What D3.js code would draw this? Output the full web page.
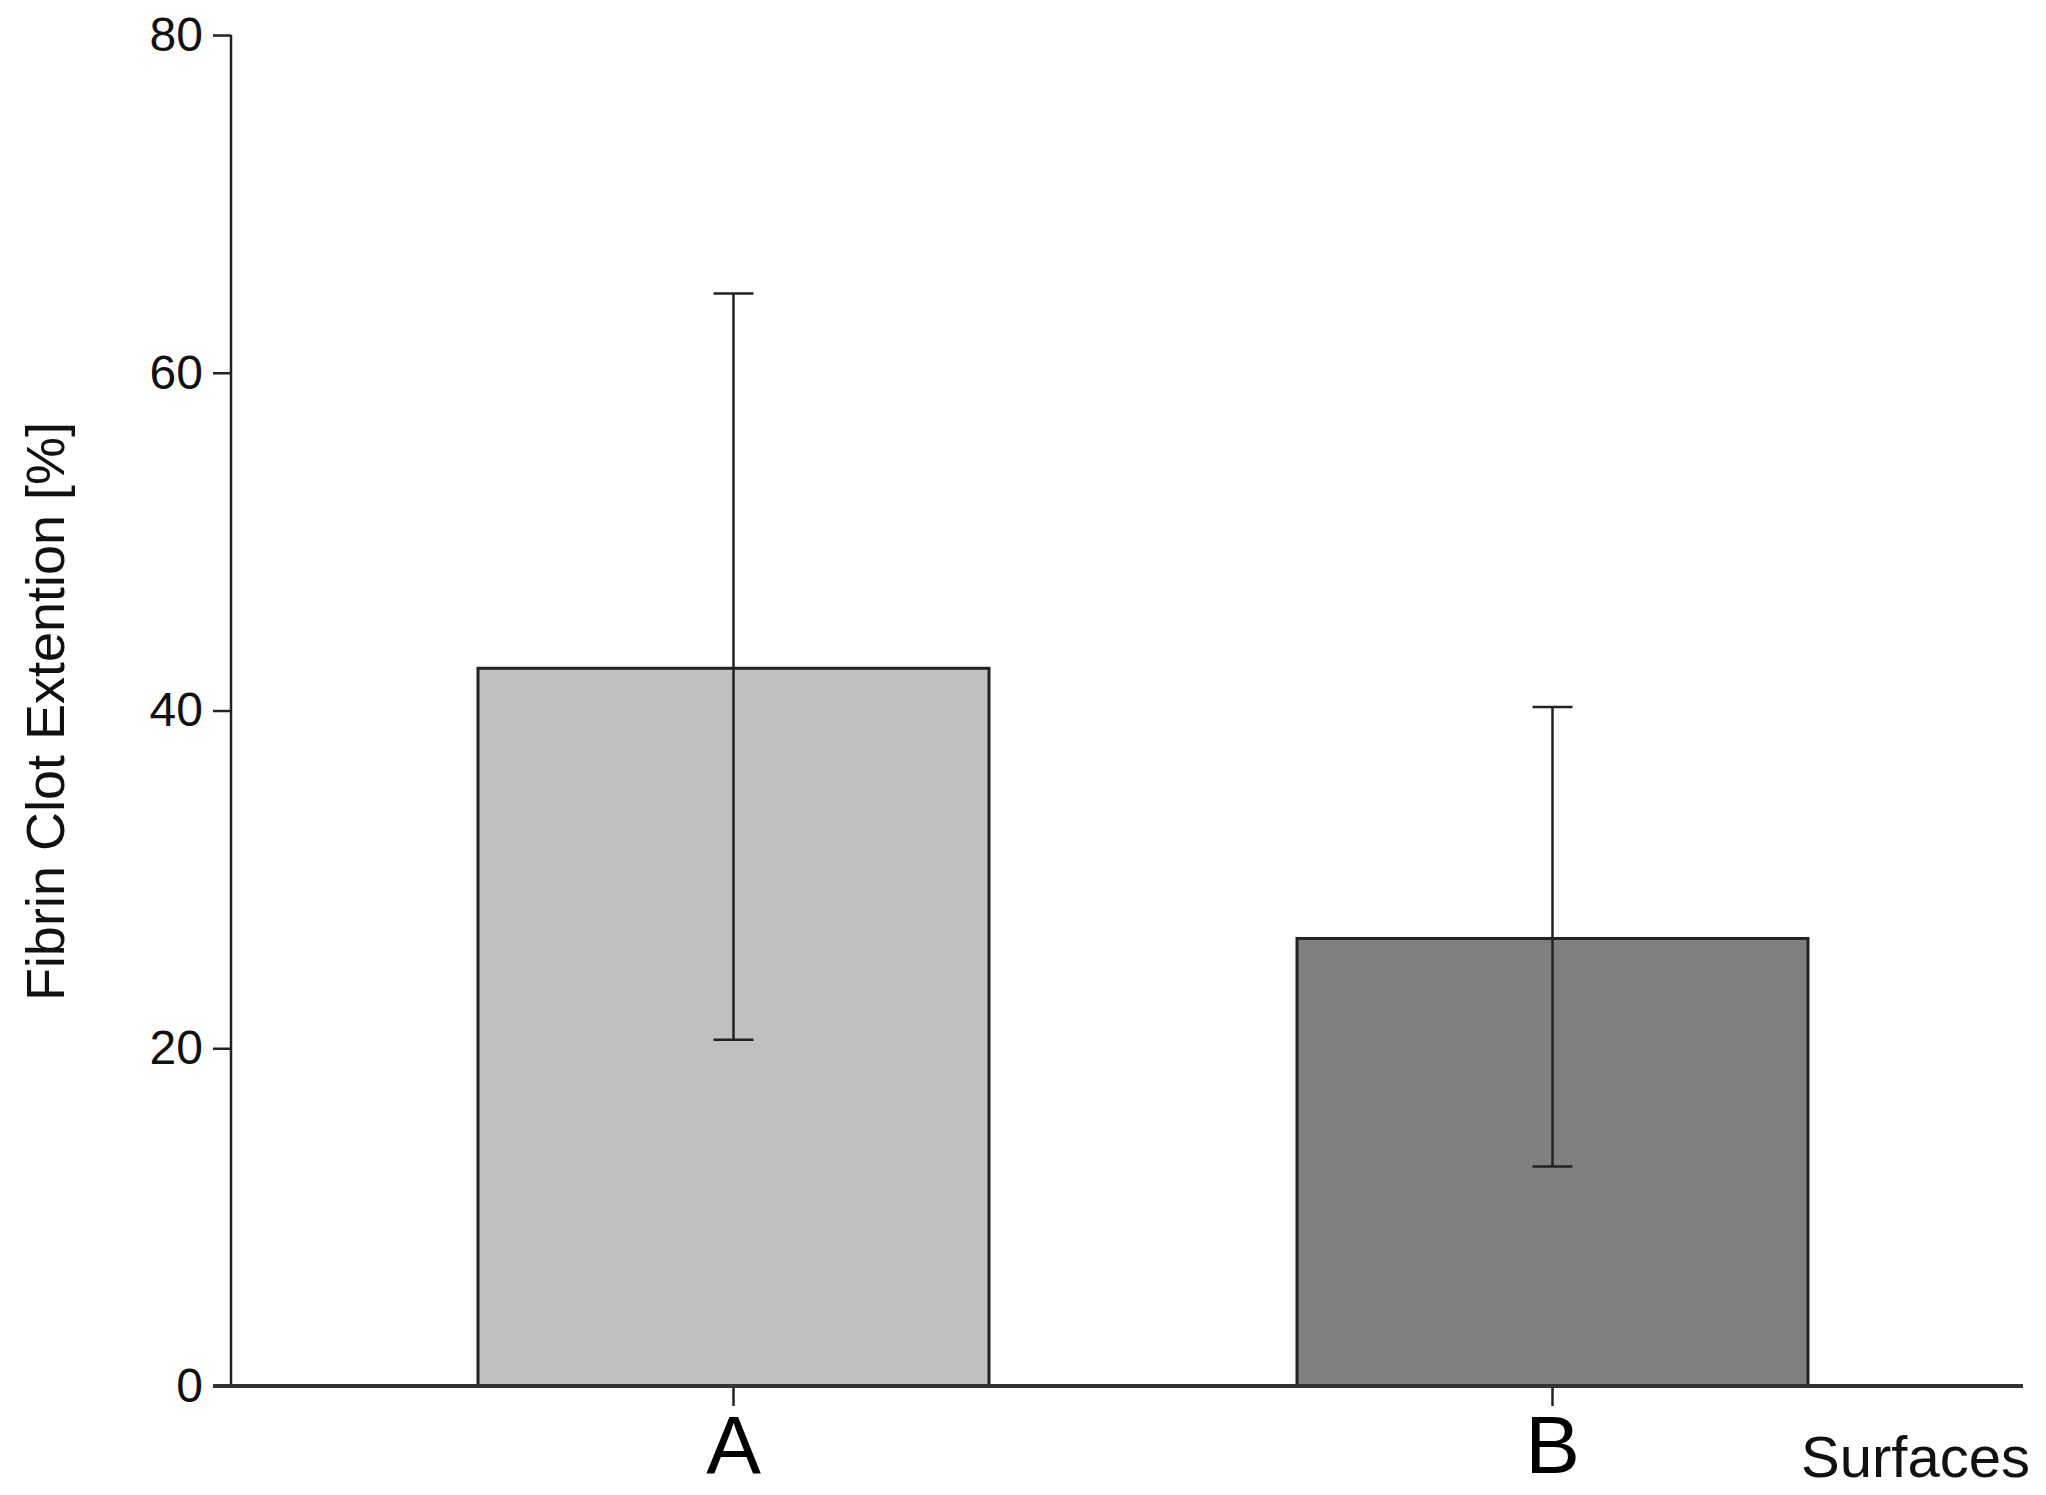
<!DOCTYPE html><html><head><meta charset="utf-8"><script src="https://d3js.org/d3.v7.min.js"></script>
<style>body{margin:0;background:#fff}</style></head><body><svg id="c" width="2046" height="1495"></svg>
<script>
const categories=["A","B"];
const values=[42.5,26.5];
const errLow=[20.5,13.0];
const errHigh=[64.7,40.2];
const colors=["#c0c0c0","#808080"];
const yTicks=[0,20,40,60,80];
const svg=d3.select("#c"),F="Liberation Sans, Arial, sans-serif";
const x0=231,x1=2023,yTop=35,yBot=1386;
const y=d3.scaleLinear().domain([0,80]).range([yBot,yTop]);
const x=d3.scaleLinear().domain([0,1]).range([479+254.5,1296+256.5]);
const bw=511;
const g=svg.append("g");
categories.forEach((c,i)=>{
  const cx=x(i);
  g.append("rect").attr("x",cx-bw/2).attr("y",y(values[i])).attr("width",bw).attr("height",yBot-y(values[i])).attr("fill",colors[i]).attr("stroke","#222").attr("stroke-width",3);
  g.append("line").attr("x1",cx).attr("x2",cx).attr("y1",y(errLow[i])).attr("y2",y(errHigh[i])).attr("stroke","#222").attr("stroke-width",2.5);
  [errLow[i],errHigh[i]].forEach(v=>g.append("line").attr("x1",cx-20).attr("x2",cx+20).attr("y1",y(v)).attr("y2",y(v)).attr("stroke","#222").attr("stroke-width",2.5));
  g.append("line").attr("x1",cx).attr("x2",cx).attr("y1",yBot).attr("y2",yBot+20).attr("stroke","#222").attr("stroke-width",2.5);
  g.append("text").attr("x",cx).attr("y",1473).attr("text-anchor","middle").attr("font-family",F).attr("font-size",82).attr("fill","#000").text(c);
});
const ax=svg.append("g").attr("transform",`translate(${x0},0)`).call(d3.axisLeft(y).tickValues(yTicks).tickSize(18).tickPadding(10));
ax.select(".domain").attr("stroke","#222").attr("stroke-width",2.5).attr("d",`M0,${yTop}V${yBot}`);
ax.selectAll(".tick line").attr("stroke","#222").attr("stroke-width",2.5);
ax.selectAll(".tick text").attr("font-family",F).attr("font-size",48).attr("fill","#111");
svg.append("line").attr("x1",x0-18).attr("x2",x1).attr("y1",yBot).attr("y2",yBot).attr("stroke","#333").attr("stroke-width",4);
svg.append("text").attr("x",2030).attr("y",1477).attr("text-anchor","end").attr("font-family",F).attr("font-size",58).attr("fill","#111").text("Surfaces");
svg.append("text").attr("transform",`translate(64,${(372+1051)/2}) rotate(-90)`).attr("text-anchor","middle").attr("font-family",F).attr("font-size",54).attr("fill","#111").text("Fibrin Clot Extention [%]");
</script></body></html>
